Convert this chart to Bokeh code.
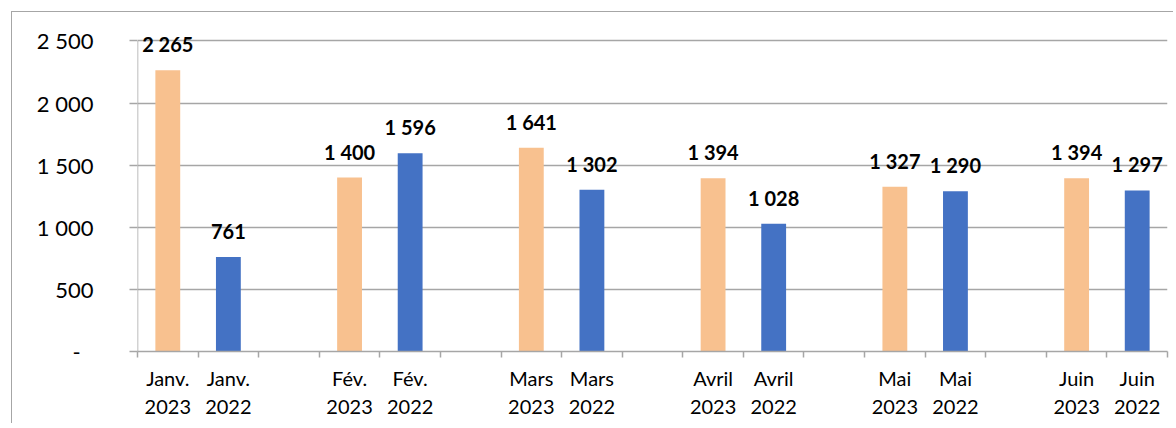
from bokeh.plotting import figure
from bokeh.models import (Range1d, FixedTicker, ColumnDataSource, LabelSet)
from bokeh.core.properties import value
from bokeh.embed import file_html
from bokeh.resources import INLINE

months = ["Janv.", "Fév.", "Mars", "Avril", "Mai", "Juin"]
years = ["2023", "2022"]
values_2023 = [2265, 1400, 1641, 1394, 1327, 1394]
values_2022 = [761, 1596, 1302, 1028, 1290, 1297]
y_ticks = [0, 500, 1000, 1500, 2000, 2500]
y_tick_labels = ["-\u2007", "500", "1 000", "1 500", "2 000", "2 500"]

ORANGE = "#F8C18F"
BLUE = "#4472C4"
GRID = "#a6a6a6"
FONT = "Lato"

# category slots: month/year pairs separated by blank slots
factors = []
for i, m in enumerate(months):
    factors.append(f"{m} {years[0]}")
    factors.append(f"{m} {years[1]}")
    if i < len(months) - 1:
        factors.append("")

cats_2023 = [f"{m} {years[0]}" for m in months]
cats_2022 = [f"{m} {years[1]}" for m in months]


def slot(cat):
    return factors.index(cat) + 0.5


def fmt(v):
    return f"{v:,}".replace(",", " ")


# a little headroom above the top tick so the top data label is not clipped
y_end = 2560

p = figure(width=1162, height=412,
           x_range=Range1d(0, len(factors)),
           y_range=Range1d(0, y_end),
           output_backend="svg", toolbar_location=None,
           min_border_left=125, min_border_right=7,
           min_border_top=21, min_border_bottom=73)
p.styles = {"margin-left": "11px", "margin-top": "11px",
            "border-top": "1px solid #a6a6a6",
            "border-left": "1px solid #a6a6a6"}
p.outline_line_color = None
p.background_fill_color = "white"
p.border_fill_color = "white"

src23 = ColumnDataSource(dict(x=[slot(c) for c in cats_2023], top=values_2023,
                              label=[fmt(v) for v in values_2023]))
src22 = ColumnDataSource(dict(x=[slot(c) for c in cats_2022], top=values_2022,
                              label=[fmt(v) for v in values_2022]))

p.vbar(x="x", top="top", width=0.41, source=src23, fill_color=ORANGE, line_color=None)
p.vbar(x="x", top="top", width=0.41, source=src22, fill_color=BLUE, line_color=None)

for src in (src23, src22):
    p.add_layout(LabelSet(x="x", y="top", text="label", source=src, level="overlay",
                          text_align="center", text_baseline="alphabetic",
                          y_offset=18, text_font=value(FONT), text_font_style="bold",
                          text_font_size="20px", text_color="black"))

# y axis line only between first and last tick
p.segment(x0=[p.x_range.start], y0=[y_ticks[0]], x1=[p.x_range.start], y1=[y_ticks[-1]],
          line_color=GRID, line_width=1.5)

yax = p.yaxis[0]
yax.ticker = FixedTicker(ticks=y_ticks)
yax.major_label_overrides = {t: l for t, l in zip(y_ticks, y_tick_labels)}
yax.major_label_text_font = FONT
yax.major_label_text_font_size = "22px"
yax.major_label_text_color = "black"
yax.major_label_standoff = 36
yax.axis_line_color = None
yax.major_tick_line_color = GRID
yax.major_tick_line_width = 1.5
yax.major_tick_out = 8
yax.major_tick_in = 0
yax.minor_tick_line_color = None

p.ygrid.ticker = FixedTicker(ticks=y_ticks)
p.ygrid.grid_line_color = GRID
p.ygrid.grid_line_width = 1.5
p.xgrid.grid_line_color = None

# x axis: labels at slot centres, tick marks at slot boundaries
centers = [i + 0.5 for i, f in enumerate(factors) if f]
labels = {i + 0.5: f.replace(" ", "\n", 1) for i, f in enumerate(factors) if f}
xax = p.xaxis[0]
xax.ticker = FixedTicker(ticks=centers, minor_ticks=list(range(len(factors) + 1)))
xax.major_label_overrides = labels
xax.axis_line_color = GRID
xax.axis_line_width = 1.5
xax.major_tick_line_color = None
xax.major_tick_out = 0
xax.major_tick_in = 0
xax.minor_tick_line_color = GRID
xax.minor_tick_line_width = 1.5
xax.minor_tick_out = 6
xax.minor_tick_in = 0
xax.major_label_standoff = 8
xax.major_label_text_font = FONT
xax.major_label_text_font_size = "20px"
xax.major_label_text_color = "black"

open("out.html", "w").write(file_html(p, INLINE))
